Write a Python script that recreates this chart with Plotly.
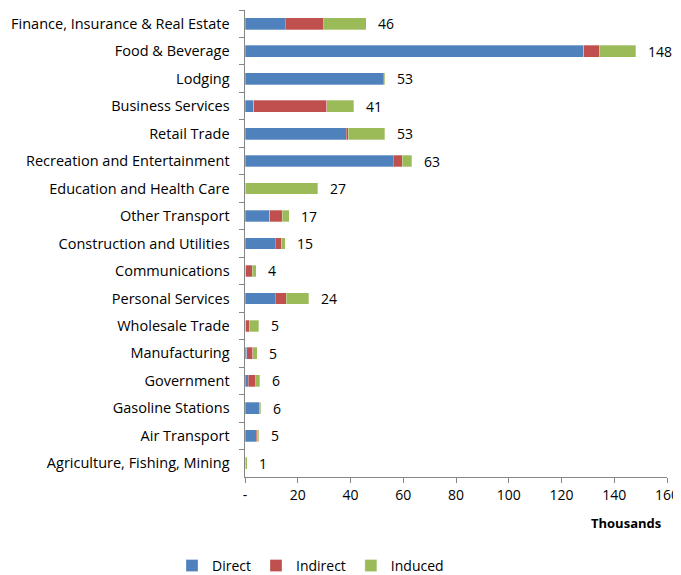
import plotly.graph_objects as go

categories = [
    "Finance, Insurance & Real Estate", "Food & Beverage", "Lodging", "Business Services",
    "Retail Trade", "Recreation and Entertainment", "Education and Health Care",
    "Other Transport", "Construction and Utilities", "Communications", "Personal Services",
    "Wholesale Trade", "Manufacturing", "Government", "Gasoline Stations", "Air Transport",
    "Agriculture, Fishing, Mining",
]
direct = [15.2, 128.5, 52.4, 3.4, 38.3, 56.2, 0.0, 9.4, 11.4, 0.3, 11.4, 0.3, 0.7, 1.2, 5.5, 4.2, 0.1]
indirect = [14.6, 5.8, 0.3, 27.5, 0.9, 3.5, 0.2, 4.7, 2.3, 2.4, 4.2, 1.4, 2.3, 2.9, 0.2, 0.4, 0.1]
induced = [16.2, 13.9, 0.5, 10.3, 13.8, 3.5, 27.3, 2.6, 1.5, 1.5, 8.5, 3.5, 1.6, 1.5, 0.4, 0.6, 0.6]
total_labels = ["46", "148", "53", "41", "53", "63", "27", "17", "15", "4", "24", "5", "5", "6", "6", "5", "1"]
tick_vals = [0, 20, 40, 60, 80, 100, 120, 140, 160]
tick_text = ["-", "20", "40", "60", "80", "100", "120", "140", "160"]

FONT = "'Open Sans', sans-serif"
series = [("Direct", direct, "#4F81BD"), ("Indirect", indirect, "#C0504D"), ("Induced", induced, "#9BBB59")]

fig = go.Figure()
for name, vals, col in series:
    fig.add_trace(go.Bar(
        y=categories, x=vals, name=name, orientation="h",
        marker=dict(color=col, line=dict(color="rgba(255,255,255,0.6)", width=0.5)),
    ))

totals = [d + i + n for d, i, n in zip(direct, indirect, induced)]
for cat, tot, lab in zip(categories, totals, total_labels):
    fig.add_annotation(x=tot, y=cat, text=lab, showarrow=False, xanchor="left",
                       xshift=10, font=dict(size=14, color="#000000", family=FONT))

fig.add_annotation(x=0.903, y=-0.0985, xref="paper", yref="paper", text="<b>Thousands</b>",
                   showarrow=False, xanchor="center", yanchor="middle",
                   font=dict(size=13, color="#000000", family=FONT))

fig.update_layout(
    barmode="stack", bargap=0.57,
    width=673, height=567,
    margin=dict(l=237, r=14, t=2, b=98),
    paper_bgcolor="white", plot_bgcolor="white",
    font=dict(family=FONT, size=14, color="#000000"),
    showlegend=True,
    legend=dict(orientation="h", x=-0.173, y=0.016, xref="paper", yref="container",
                xanchor="left", yanchor="middle",
                font=dict(size=14, family=FONT), traceorder="normal", itemwidth=30),
    xaxis=dict(range=[0, 160], tickvals=tick_vals, ticktext=tick_text, showgrid=False,
               zeroline=False, showline=True, linecolor="#868686", linewidth=1,
               ticks="outside", ticklen=5, tickcolor="#868686", tickfont=dict(size=14),
               automargin=False),
    yaxis=dict(autorange="reversed", showgrid=False, showline=True, linecolor="#868686",
               linewidth=1, ticks="outside", ticklen=5, tickcolor="#868686",
               tickson="boundaries", tickfont=dict(size=14.5), ticksuffix="  ",
               ticklabelstandoff=4, automargin=False),
)

fig.write_html("out.html")
